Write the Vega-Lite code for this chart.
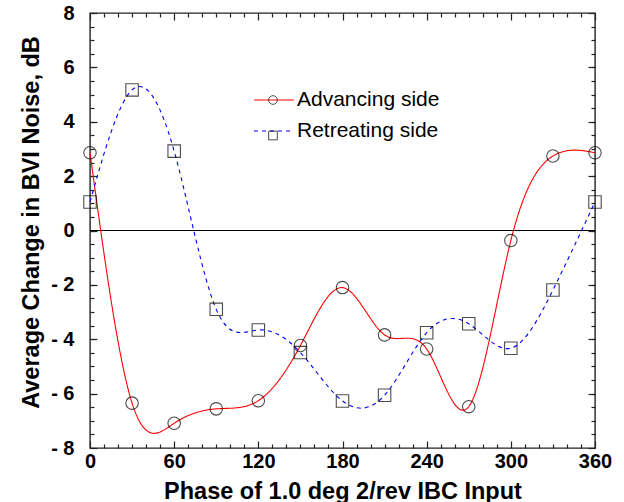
{
  "$schema": "https://vega.github.io/schema/vega-lite/v6.json",
  "width": 505,
  "height": 435,
  "autosize": "none",
  "padding": {"left": 90, "top": 13, "right": 29, "bottom": 54},
  "background": "white",
  "config": {
    "view": {"stroke": "#222222", "strokeWidth": 1.4},
    "font": "Liberation Sans",
    "axis": {"domain": false, "grid": false, "tickColor": "#222222", "tickWidth": 1.2, "labelColor": "black", "titleColor": "black"}
  },
  "data": {
    "values": [
      {"phase": 0, "change": 2.86, "side": "Advancing side"},
      {"phase": 30, "change": -6.35, "side": "Advancing side"},
      {"phase": 60, "change": -7.09, "side": "Advancing side"},
      {"phase": 90, "change": -6.56, "side": "Advancing side"},
      {"phase": 120, "change": -6.26, "side": "Advancing side"},
      {"phase": 150, "change": -4.23, "side": "Advancing side"},
      {"phase": 180, "change": -2.1, "side": "Advancing side"},
      {"phase": 210, "change": -3.84, "side": "Advancing side"},
      {"phase": 240, "change": -4.36, "side": "Advancing side"},
      {"phase": 270, "change": -6.48, "side": "Advancing side"},
      {"phase": 300, "change": -0.37, "side": "Advancing side"},
      {"phase": 330, "change": 2.74, "side": "Advancing side"},
      {"phase": 360, "change": 2.86, "side": "Advancing side"},
      {"phase": 0, "change": 1.05, "side": "Retreating side"},
      {"phase": 30, "change": 5.17, "side": "Retreating side"},
      {"phase": 60, "change": 2.92, "side": "Retreating side"},
      {"phase": 90, "change": -2.9, "side": "Retreating side"},
      {"phase": 120, "change": -3.66, "side": "Retreating side"},
      {"phase": 150, "change": -4.49, "side": "Retreating side"},
      {"phase": 180, "change": -6.27, "side": "Retreating side"},
      {"phase": 210, "change": -6.06, "side": "Retreating side"},
      {"phase": 240, "change": -3.76, "side": "Retreating side"},
      {"phase": 270, "change": -3.43, "side": "Retreating side"},
      {"phase": 300, "change": -4.33, "side": "Retreating side"},
      {"phase": 330, "change": -2.19, "side": "Retreating side"},
      {"phase": 360, "change": 1.05, "side": "Retreating side"}
    ]
  },
  "layer": [
    {
      "data": {"values": [{}]},
      "mark": {"type": "rule", "color": "black", "strokeWidth": 1},
      "encoding": {
        "y": {"datum": 0, "type": "quantitative", "scale": {"domain": [-8, 8], "nice": false},
          "axis": {"orient": "left", "values": [-7.5,-7,-6.5,-6,-5.5,-5,-4.5,-4,-3.5,-3,-2.5,-2,-1.5,-1,-0.5,0,0.5,1,1.5,2,2.5,3,3.5,4,4.5,5,5.5,6,6.5,7,7.5], "tickSize": 4, "offset": -4, "labels": false, "title": null}},
        "x": {"datum": 0, "type": "quantitative", "scale": {"domain": [0, 360], "nice": false},
          "axis": {"orient": "bottom", "values": [10,20,30,40,50,70,80,90,100,110,130,140,150,160,170,190,200,210,220,230,250,260,270,280,290,310,320,330,340,350], "tickSize": 4, "offset": -4, "labels": false, "title": null}},
        "x2": {"datum": 360}
      }
    },
    {
      "mark": {"type": "line", "interpolate": "natural", "strokeWidth": 1.1},
      "encoding": {
        "x": {"field": "phase", "type": "quantitative",
          "axis": {"orient": "bottom", "values": [0,60,120,180,240,300,360], "tickSize": 7, "offset": -7, "labelFontSize": 20, "labelFontWeight": "bold", "labelPadding": 3, "labelFlush": false,
            "title": "Phase of 1.0 deg 2/rev IBC Input", "titleFontSize": 23.5, "titleFontWeight": "bold", "titleBaseline": "alphabetic", "titleY": 57}},
        "y": {"field": "change", "type": "quantitative",
          "axis": {"orient": "left", "values": [-8,-6,-4,-2,0,2,4,6,8], "tickSize": 7, "offset": -7, "labelFontSize": 20, "labelFontWeight": "bold", "labelPadding": 16, "labelFlush": false,
            "labelExpr": "datum.value < 0 ? '- ' + (-datum.value) : datum.label",
            "title": "Average Change in BVI Noise, dB", "titleFontSize": 23.5, "titleFontWeight": "bold", "titleBaseline": "alphabetic", "titleAngle": -90, "titleX": -59, "titleY": 209}},
        "color": {"field": "side", "type": "nominal", "scale": {"range": ["#ff0000", "#0000ff"]},
          "legend": {"orient": "none", "legendX": 163, "legendY": 66, "title": null, "padding": 0, "symbolType": "stroke", "symbolSize": 1600, "symbolStrokeWidth": 1.1, "labelFontSize": 21, "labelFont": "Liberation Sans", "labelColor": "black", "labelOffset": 2, "rowPadding": -3, "labelLimit": 300}},
        "strokeDash": {"field": "side", "type": "nominal", "scale": {"range": [[1, 0], [4, 4]]}}
      }
    },
    {
      "transform": [{"filter": "datum.side == 'Advancing side'"}],
      "mark": {"type": "point", "filled": false, "stroke": "black", "strokeWidth": 1.1, "size": 155},
      "encoding": {
        "x": {"field": "phase", "type": "quantitative",
          "axis": {"orient": "top", "values": [0,60,120,180,240,300,360], "tickSize": 7, "offset": -7, "labels": false, "title": null}},
        "y": {"field": "change", "type": "quantitative",
          "axis": {"orient": "right", "values": [-8,-6,-4,-2,0,2,4,6,8], "tickSize": 7, "offset": -7, "labels": false, "title": null}},
        "shape": {"field": "side", "type": "nominal", "scale": {"domain": ["Advancing side", "Retreating side"], "range": ["circle", "square"]},
          "legend": {"orient": "none", "legendX": 178, "legendY": 82, "title": null, "padding": 0, "symbolSize": 75, "symbolStrokeColor": "black", "symbolFillColor": "white", "symbolStrokeWidth": 1, "labelExpr": "''", "labelFontSize": 1, "labelOffset": 0, "rowPadding": 21.5}}
      }
    },
    {
      "transform": [{"filter": "datum.side == 'Retreating side'"}],
      "mark": {"type": "point", "filled": false, "stroke": "black", "strokeWidth": 1.1, "size": 155},
      "encoding": {
        "x": {"field": "phase", "type": "quantitative",
          "axis": {"orient": "top", "values": [10,20,30,40,50,70,80,90,100,110,130,140,150,160,170,190,200,210,220,230,250,260,270,280,290,310,320,330,340,350], "tickSize": 4, "offset": -4, "labels": false, "title": null}},
        "y": {"field": "change", "type": "quantitative",
          "axis": {"orient": "right", "values": [-7.5,-7,-6.5,-6,-5.5,-5,-4.5,-4,-3.5,-3,-2.5,-2,-1.5,-1,-0.5,0,0.5,1,1.5,2,2.5,3,3.5,4,4.5,5,5.5,6,6.5,7,7.5], "tickSize": 4, "offset": -4, "labels": false, "title": null}},
        "shape": {"field": "side", "type": "nominal", "scale": {"domain": ["Advancing side", "Retreating side"], "range": ["circle", "square"]}}
      }
    }
  ],
  "resolve": {"axis": {"x": "independent", "y": "independent"}}
}
